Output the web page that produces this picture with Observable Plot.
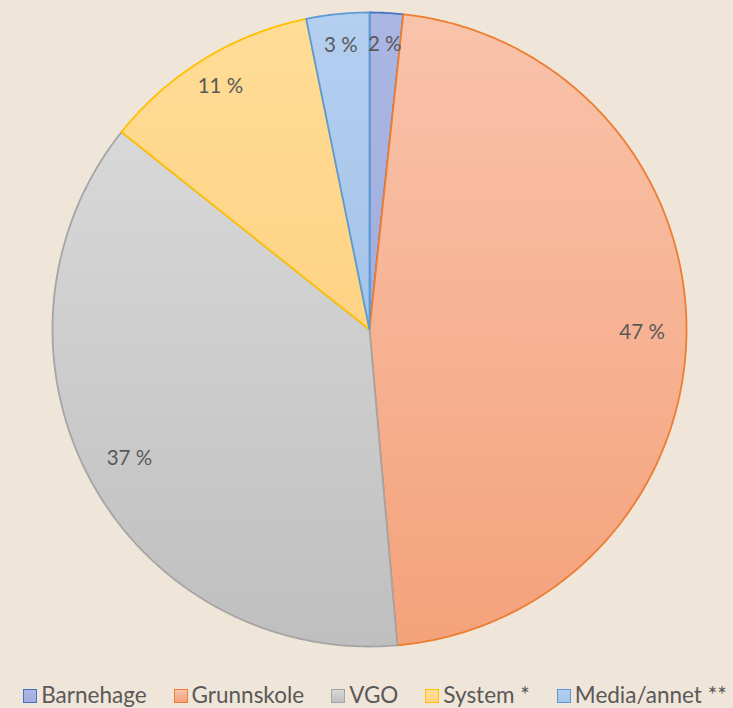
<!DOCTYPE html>
<html>
<head>
<meta charset="utf-8">
<script src="https://cdn.jsdelivr.net/npm/d3@7"></script>
<script src="https://cdn.jsdelivr.net/npm/@observablehq/plot@0.6"></script>
<style>
  html, body { margin: 0; padding: 0; background: #efe5d8; }
  body { width: 733px; height: 708px; position: relative; overflow: hidden; font-family: Lato, "Open Sans", sans-serif; }
  #chart svg { display: block; }
  #legend { position: absolute; top: 684px; left: 0; width: 750px; display: flex; justify-content: center; gap: 27px; color: #595959; font-size: 22.5px; line-height: 22px; white-space: nowrap; }
  .item { display: flex; align-items: center; gap: 4px; }
  .sw { width: 12px; height: 12px; border: 1.5px solid; box-sizing: content-box; margin-top: 1px; }
</style>
</head>
<body>
<div id="chart"></div>
<div id="legend"></div>
<script>
// ---- data ----
const categories = ["Barnehage", "Grunnskole", "VGO", "System *", "Media/annet **"];
const values = [1.7, 46.9, 37.1, 11.1, 3.2];
const labels = ["2 %", "47 %", "37 %", "11 %", "3 %"];

// ---- palette ----
const fillTop    = ["#abb7e3", "#f9c3ab", "#d8d8d8", "#ffdc96", "#b4cff0"];
const fillBottom = ["#a1addb", "#f4a27b", "#bfbfbf", "#ffd385", "#a5c4e9"];
const strokes    = ["#4472c4", "#ed7d31", "#a5a5a5", "#ffc000", "#5b9bd5"];

const pie = d3.pie().sort(null).value(d => d.value);
const rows = categories.map((c, i) => ({name: c, value: values[i], label: labels[i], i}));
const arcs = pie(rows);

function slicePolygon(a) {
  const pts = [[0, 0]];
  const n = Math.max(2, Math.ceil((a.endAngle - a.startAngle) / (Math.PI / 360)));
  for (let k = 0; k <= n; k++) {
    const t = a.startAngle + (a.endAngle - a.startAngle) * k / n;
    pts.push([Math.sin(t), -Math.cos(t)]);
  }
  pts.push([0, 0]);
  return {type: "Feature", properties: {name: a.data.name, i: a.data.i}, geometry: {type: "Polygon", coordinates: [pts]}};
}
const slices = {type: "FeatureCollection", features: arcs.map(slicePolygon)};

const circle = {type: "Polygon", coordinates: [d3.range(0, 361, 2).map(d => [Math.sin(d * Math.PI / 180), -Math.cos(d * Math.PI / 180)])]};

const labelPts = arcs.map(a => {
  const m = (a.startAngle + a.endAngle) / 2;
  const lr = a.data.value > 20 ? 0.86 : 0.9;
  return {x: lr * Math.sin(m), y: -lr * Math.cos(m), label: a.data.label};
});

const plot = Plot.plot({
  width: 733,
  height: 660,
  margin: 0,
  projection: {type: "identity", domain: circle, insetTop: 12, insetBottom: 14, insetLeft: 5, insetRight: 0},
  color: {type: "identity"},
  marks: [
    Plot.geo(slices.features, {
      fill: d => `url(#grad${d.properties.i})`,
      stroke: d => strokes[d.properties.i],
      strokeWidth: 1.8,
      strokeLinejoin: "round"
    }),
    Plot.text(labelPts, {
      x: "x", y: "y", text: "label",
      fill: "#595959", fontSize: 20.5, fontFamily: "Lato, 'Open Sans', sans-serif"
    })
  ]
});

const defs = d3.select(plot).insert("defs", ":first-child");
categories.forEach((c, i) => {
  const g = defs.append("linearGradient").attr("id", "grad" + i)
    .attr("x1", 0).attr("y1", 0).attr("x2", 0).attr("y2", 1);
  g.append("stop").attr("offset", "0%").attr("stop-color", fillTop[i]);
  g.append("stop").attr("offset", "100%").attr("stop-color", fillBottom[i]);
});

document.getElementById("chart").appendChild(plot);

const legend = d3.select("#legend");
categories.forEach((c, i) => {
  const it = legend.append("div").attr("class", "item");
  it.append("div").attr("class", "sw")
    .style("background", `linear-gradient(${fillTop[i]}, ${fillBottom[i]})`)
    .style("border-color", strokes[i]);
  it.append("span").text(c);
});
</script>
</body>
</html>
